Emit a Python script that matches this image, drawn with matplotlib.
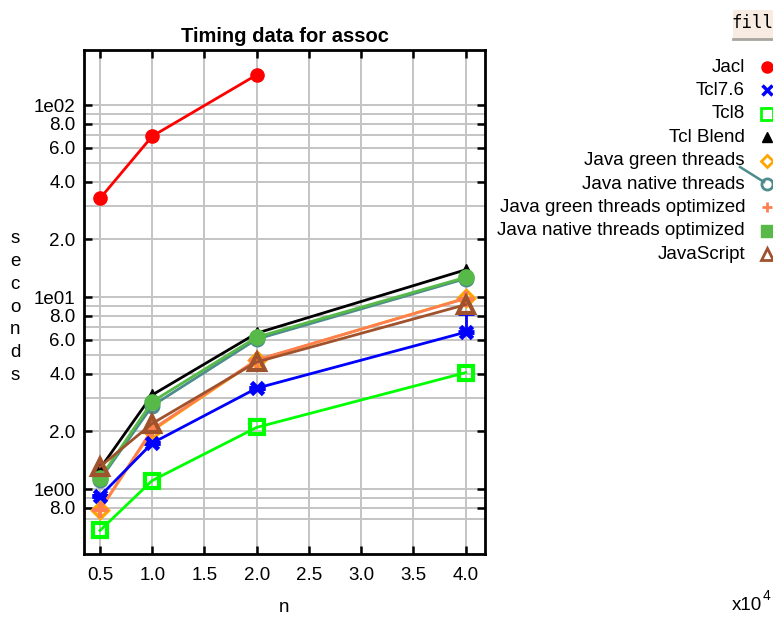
import matplotlib.pyplot as plt
from matplotlib.lines import Line2D
from matplotlib.patches import Rectangle
from matplotlib.ticker import FixedLocator, NullFormatter

plt.rcParams['font.family'] = ['Liberation Sans', 'DejaVu Sans']

n = [0.5, 1.0, 2.0, 4.0]  # x10^4

jacl = [32.7, 69.0, 144.0]
tcl76 = [0.92, 1.74, 3.36, 6.58]
tcl76_err_up = [0.0, 0.0, 0.0, 1.7]
tcl8 = [0.61, 1.11, 2.10, 4.05]
tcl_blend = [1.28, 3.1, 6.5, 13.9]
java_green = [0.78, 2.02, 4.70, 9.9]
java_native = [1.12, 2.72, 6.05, 12.5]
java_green_opt = [0.78, 2.05, 4.72, 9.85]
java_native_opt = [1.14, 2.86, 6.2, 12.7]
javascript = [1.31, 2.2, 4.6, 9.15]

labels = ['Jacl', 'Tcl7.6', 'Tcl8', 'Tcl Blend', 'Java green threads',
          'Java native threads', 'Java green threads optimized',
          'Java native threads optimized', 'JavaScript']
colors = ['#ff0000', '#0000ff', '#00ff00', '#000000', '#ffa500',
          '#4d8c8c', '#ff7f50', '#57b947', '#a0522d']

yticks = [0.8, 1, 2, 4, 6, 8, 10, 20, 40, 60, 80, 100]
ytick_labels = ['8.0', '1e00', '2.0', '4.0', '6.0', '8.0', '1e01',
                '2.0', '4.0', '6.0', '8.0', '1e02']
ygrid_minor = [0.7, 0.9, 3, 5, 7, 9, 30, 50, 70, 90]
xticks = [0.5, 1.0, 1.5, 2.0, 2.5, 3.0, 3.5, 4.0]

W, H = 773, 617
fig = plt.figure(figsize=(W / 100, H / 100), dpi=100)
ax = fig.add_axes([84 / W, 1 - 554 / H, 401 / W, 504 / H])

ax.set_yscale('log')
ax.set_xlim(0.347, 4.185)
ax.set_ylim(0.46, 194)

ax.yaxis.set_major_locator(FixedLocator(yticks))
ax.set_yticklabels(ytick_labels)
ax.yaxis.set_minor_locator(FixedLocator(ygrid_minor))
ax.yaxis.set_minor_formatter(NullFormatter())
ax.set_xticks(xticks)
ax.set_xticklabels(['%.1f' % v for v in xticks])

ax.grid(True, which='both', color='#c4c4c4', lw=1.4)
ax.set_axisbelow(True)
ax.tick_params(which='major', direction='in', length=6, width=1.8,
               top=True, right=True, labelsize=13.5)
ax.tick_params(axis='y', which='major', pad=6)
ax.tick_params(axis='x', which='major', pad=9)
ax.tick_params(which='minor', length=0)
for s in ax.spines.values():
    s.set_linewidth(2)

lw = 2
ax.plot(n[:3], jacl, color=colors[0], lw=lw, marker='o', ms=9.5)
ax.errorbar(n, tcl76, yerr=[[0] * 4, tcl76_err_up], color=colors[1], lw=lw,
            marker='x', ms=9, mew=3.5, capsize=6, capthick=2.5)
ax.plot(n, tcl8, color=colors[2], lw=lw, marker='s', ms=10, mfc='none', mew=3)
ax.plot(n, tcl_blend, color=colors[3], lw=lw, marker='^', ms=9)
ax.plot(n, java_green, color=colors[4], lw=lw, marker='D', ms=8, mfc='none', mew=2.5)
ax.plot(n, java_native, color=colors[5], lw=lw, marker='o', ms=9, mfc='none', mew=2.5)
ax.plot(n, java_green_opt, color=colors[6], lw=lw, marker='+', ms=11, mew=3)
ax.plot(n, java_native_opt, color=colors[7], lw=lw, marker='o', ms=11)
ax.plot(n, javascript, color=colors[8], lw=lw, marker='^', ms=11, mfc='none', mew=3)

ax.set_title('Timing data for assoc', fontsize=14.5, fontweight='bold', pad=6)
fig.text(284 / W, 1 - 607 / H, 'n', fontsize=13.5, ha='center', va='center')
fig.text(15 / W, 1 - 307 / H, 's\ne\nc\no\nn\nd\ns', fontsize=13.5,
         ha='center', va='center', linespacing=1.45)
fig.text(732 / W, 1 - 605 / H, 'x10', fontsize=13.5, ha='left', va='center')
fig.text(763 / W, 1 - 596 / H, '4', fontsize=10, ha='left', va='center')

# legend, drawn by hand (right aligned text, marker after it)
leg_marks = [dict(marker='o', ms=8),
             dict(marker='x', ms=7, mew=2.5),
             dict(marker='s', ms=8, mfc='none', mew=2),
             dict(marker='^', ms=7),
             dict(marker='D', ms=6, mfc='none', mew=2),
             dict(marker='o', ms=8, mfc='none', mew=2),
             dict(marker='+', ms=7, mew=2),
             dict(marker='s', ms=8),
             dict(marker='^', ms=8, mfc='none', mew=2)]
for i, (lab, col, mk) in enumerate(zip(labels, colors, leg_marks)):
    y = 1 - (67 + 23.4 * i) / H
    fig.text(745 / W, y, lab, fontsize=13.5, ha='right', va='center')
    fig.add_artist(Line2D([767 / W], [y], color=col, transform=fig.transFigure, **mk))
fig.add_artist(Line2D([740 / W, 764 / W], [1 - 167 / H, 1 - 182 / H],
                      color=colors[5], lw=1.8, transform=fig.transFigure))

# "fill" button in the corner
fig.add_artist(Rectangle((733 / W, 1 - 39 / H), 42 / W, 29 / H,
                         transform=fig.transFigure, facecolor='#f8ece2',
                         edgecolor='none'))
fig.add_artist(Line2D([733 / W, 1], [1 - 39 / H, 1 - 39 / H], color='#a8a49e',
                      lw=2, transform=fig.transFigure))
fig.text(752 / W, 1 - 23 / H, 'fill', fontsize=12.5, family='DejaVu Sans Mono',
         ha='center', va='center')

fig.savefig('out.png', dpi=100)
